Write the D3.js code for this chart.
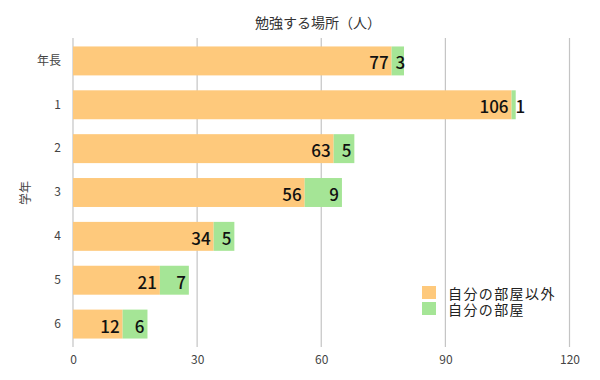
<!DOCTYPE html>
<html><head><meta charset="utf-8">
<script src="https://cdn.jsdelivr.net/npm/d3@7"></script>
<style>body{margin:0;background:#fff}svg{display:block}</style>
</head><body>
<svg id="c" width="600" height="380"></svg>
<script>
const categories = ["年長","1","2","3","4","5","6"];
const outsideRoom = [77,106,63,56,34,21,12];
const ownRoom = [3,1,5,9,5,7,6];
const seriesNames = ["自分の部屋以外","自分の部屋"];
const xTicks = [0,30,60,90,120];
const colors = ["#fec97c","#a5e596"];

const svg = d3.select("#c");
const font = "'Noto Sans CJK JP','Noto Sans',sans-serif";
const x = d3.scaleLinear().domain([0,120]).range([73,569.5]);
const y = d3.scaleBand().domain(categories).range([39,346]).paddingInner(0.34).paddingOuter(0.17);

// gridlines
svg.append("g").selectAll("line").data(xTicks).join("line")
  .attr("x1",d=>x(d)).attr("x2",d=>x(d)).attr("y1",38).attr("y2",347)
  .attr("stroke","#c4c4c4").attr("stroke-width",1.2);

// x axis labels
const xa = svg.append("g").attr("transform","translate(0,347)")
  .call(d3.axisBottom(x).tickValues(xTicks).tickSize(0).tickPadding(8));
xa.select(".domain").remove();
xa.selectAll("text").attr("font-family",font).attr("font-size",12).attr("fill","#444");

// y axis labels
const ya = svg.append("g").attr("transform","translate(61,0)")
  .call(d3.axisLeft(y).tickSize(0).tickPadding(0));
ya.select(".domain").remove();
ya.selectAll("text").attr("font-family",font).attr("font-size",12).attr("fill","#444");

// stacked data
const rows = categories.map((c,i)=>({cat:c, vals:[outsideRoom[i], ownRoom[i]]}));
const segs = [];
rows.forEach(r=>{
  let acc=0;
  r.vals.forEach((v,k)=>{ segs.push({cat:r.cat,k,v,x0:acc,x1:acc+v}); acc+=v; });
});

svg.append("g").selectAll("rect").data(segs).join("rect")
  .attr("x",d=>x(d.x0)).attr("width",d=>x(d.x1)-x(d.x0))
  .attr("y",d=>y(d.cat)).attr("height",y.bandwidth())
  .attr("fill",d=>colors[d.k]);

const lbl = svg.append("g").selectAll("text").data(segs).join("text")
  .attr("font-family",font).attr("font-size",17).attr("font-weight",500)
  .attr("fill","#111").attr("dominant-baseline","central")
  .attr("y",d=>y(d.cat)+y.bandwidth()/2+1)
  .text(d=>d.v);
lbl.each(function(d){
  const w = this.getComputedTextLength();
  const s = x(d.x0), e = x(d.x1), pad = 3;
  const t = d3.select(this);
  if (w + 2*pad > e - s) t.attr("x", s + 4).attr("text-anchor","start");
  else t.attr("x", e - pad).attr("text-anchor","end");
});

// title
svg.append("text").attr("x",318).attr("y",22).attr("text-anchor","middle")
  .attr("dominant-baseline","central").attr("font-family",font).attr("font-size",14)
  .attr("fill","#333").text("勉強する場所（人）");

// y title
svg.append("text").attr("transform","translate(24,193) rotate(-90)").attr("text-anchor","middle")
  .attr("dominant-baseline","central").attr("font-family",font).attr("font-size",12)
  .attr("fill","#444").text("学年");

// legend
const lg = svg.append("g").selectAll("g").data(seriesNames).join("g")
  .attr("transform",(d,i)=>`translate(422,${286+i*16})`);
lg.append("rect").attr("width",14).attr("height",13).attr("fill",(d,i)=>colors[i]);
lg.append("text").attr("x",26).attr("y",7).attr("dominant-baseline","central")
  .attr("font-family",font).attr("font-size",14).attr("letter-spacing",1.4)
  .attr("fill","#222").text(d=>d);
</script>
</body></html>
